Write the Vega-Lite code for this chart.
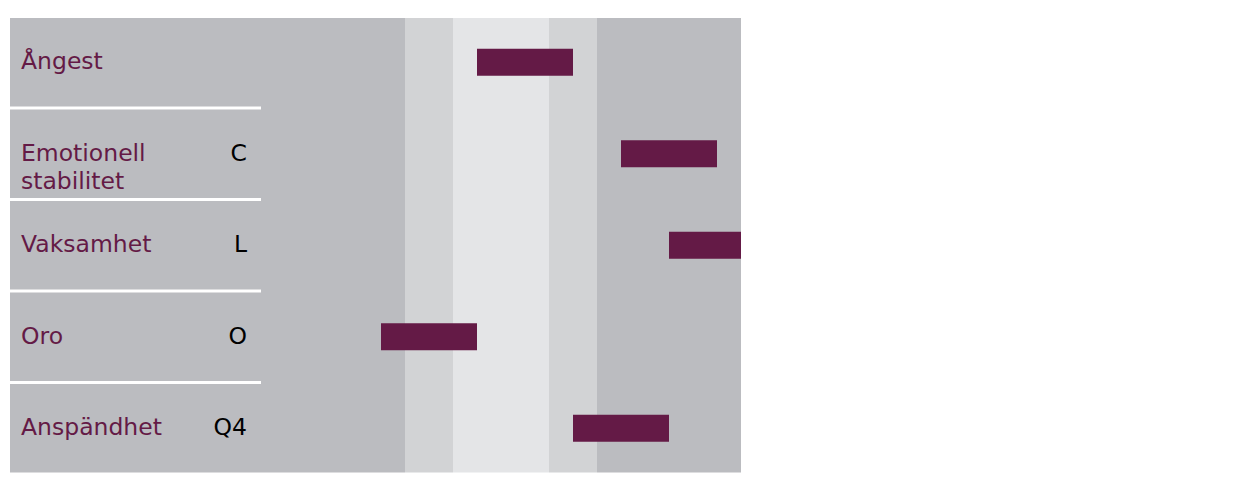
{
  "$schema": "https://vega.github.io/schema/vega-lite/v6.json",
  "padding": {"left": 10, "top": 18, "right": 0, "bottom": 0},
  "spacing": 0,
  "config": {
    "font": "DejaVu Sans",
    "view": {"stroke": null},
    "text": {"font": "DejaVu Sans", "fontSize": 23.5, "lineHeight": 28.5, "lineBreak": "\n", "baseline": "middle"},
    "axis": {"labelFont": "DejaVu Sans", "labelFontSize": 23.5, "labelColor": "#8c8c8c", "domain": false, "ticks": false, "grid": false, "labelPadding": 13, "title": null, "labelBaseline": "bottom"}
  },
  "data": {"values": [
    {"row": "Ångest", "label": "Ångest", "factor": "", "sten": 6, "lo": 5, "hi": 7, "left": "Låg grad av\nångest", "right": "Hög grad av\nångest"},
    {"row": "Emotionell stabilitet", "label": "Emotionell\nstabilitet", "factor": "C", "sten": 9, "lo": 8, "hi": 10, "left": "Reaktions-\nbenägen", "right": "Emotionellt\nstabil"},
    {"row": "Vaksamhet", "label": "Vaksamhet", "factor": "L", "sten": 10, "lo": 9, "hi": 10.5, "left": "Tillitsfull", "right": "Vaksam"},
    {"row": "Oro", "label": "Oro", "factor": "O", "sten": 4, "lo": 3, "hi": 5, "left": "Självsäker", "right": "Orolig"},
    {"row": "Anspändhet", "label": "Anspändhet", "factor": "Q4", "sten": 8, "lo": 7, "hi": 9, "left": "Avspänd", "right": "Anspänd"}
  ]},
  "hconcat": [
    {
      "width": 251, "height": 454.5,
      "encoding": {"y": {"field": "row", "type": "nominal", "sort": null, "axis": null, "scale": {"paddingInner": 0.0328, "paddingOuter": 0}}},
      "layer": [
        {"mark": {"type": "rect", "color": "#bbbcc0"}, "encoding": {}},
        {"mark": {"type": "text", "align": "left", "dx": 11, "color": "#641a46"}, "encoding": {"x": {"datum": 0, "type": "quantitative", "scale": {"domain": [0, 1], "nice": false}, "axis": null}, "text": {"field": "label"}}},
        {"mark": {"type": "text", "align": "right", "dx": -14, "color": "#000000"}, "encoding": {"x": {"datum": 1, "type": "quantitative", "axis": null}, "text": {"field": "factor"}}}
      ]
    },
    {
      "width": 480, "height": 454.5,
      "layer": [
        {
          "data": {"values": [
            {"col": 1, "from": 0.5, "to": 1.5, "zone": "outer"},
            {"col": 2, "from": 1.5, "to": 2.5, "zone": "outer"},
            {"col": 3, "from": 2.5, "to": 3.5, "zone": "outer"},
            {"col": 4, "from": 3.5, "to": 4.5, "zone": "mid"},
            {"col": 5, "from": 4.5, "to": 5.5, "zone": "center"},
            {"col": 6, "from": 5.5, "to": 6.5, "zone": "center"},
            {"col": 7, "from": 6.5, "to": 7.5, "zone": "mid"},
            {"col": 8, "from": 7.5, "to": 8.5, "zone": "outer"},
            {"col": 9, "from": 8.5, "to": 9.5, "zone": "outer"},
            {"col": 10, "from": 9.5, "to": 10.5, "zone": "outer"}
          ]},
          "mark": {"type": "rect"},
          "encoding": {
            "x": {"field": "from", "type": "quantitative", "scale": {"domain": [0.5, 10.5], "nice": false, "zero": false}, "axis": {"orient": "top", "values": [1, 2, 3, 4, 5, 6, 7, 8, 9, 10], "format": "d", "labelFlush": false, "labelOverlap": false}},
            "x2": {"field": "to"},
            "color": {"field": "zone", "type": "nominal", "legend": null, "scale": {"domain": ["outer", "mid", "center"], "range": ["#bbbcc0", "#d2d3d5", "#e4e5e7"]}}
          }
        },
        {
          "mark": {"type": "bar", "color": "#641a46", "size": 27},
          "encoding": {
            "x": {"field": "lo", "type": "quantitative", "axis": null},
            "x2": {"field": "hi"},
            "y": {"field": "row", "type": "nominal", "sort": null, "axis": null, "scale": {"paddingInner": 0.0328, "paddingOuter": 0}}
          }
        }
      ]
    }
  ]
}
